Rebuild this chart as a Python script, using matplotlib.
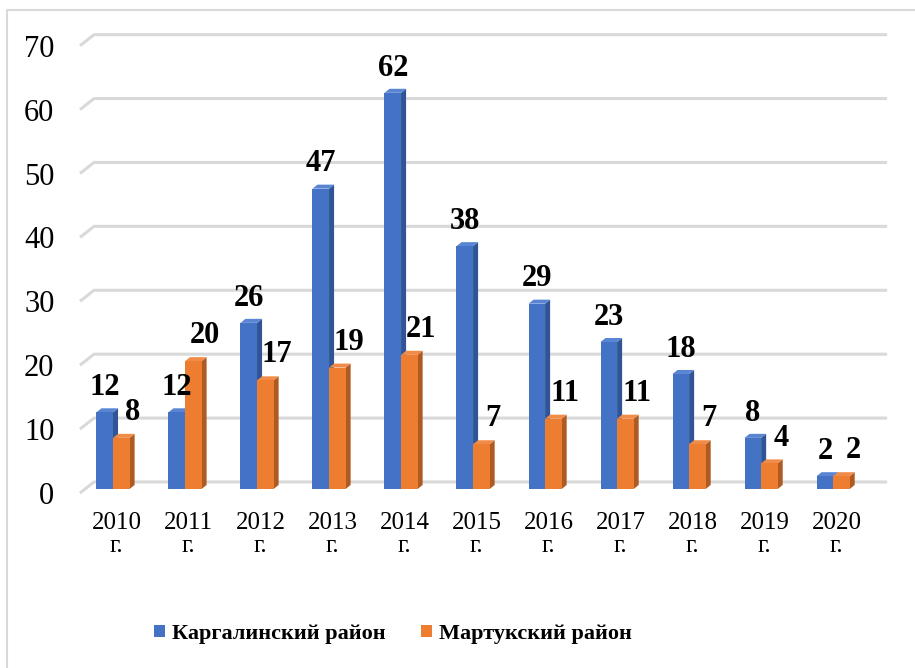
import matplotlib
matplotlib.use("Agg")
import matplotlib.pyplot as plt
from matplotlib.patches import Polygon, Patch
from matplotlib.lines import Line2D

plt.rcParams['font.family'] = 'Liberation Serif'

# data
years = ['2010', '2011', '2012', '2013', '2014', '2015', '2016', '2017', '2018', '2019', '2020']
kargala = [12, 12, 26, 47, 62, 38, 29, 23, 18, 8, 2]
martuk = [8, 20, 17, 19, 21, 7, 11, 11, 7, 4, 2]
series_names = ['Каргалинский район', 'Мартукский район']
yticks = [0, 10, 20, 30, 40, 50, 60, 70]

# colors: front, side, top
blue = ('#4472C4', '#2F5597', '#5A85D2')
orange = ('#ED7D31', '#AE5A21', '#F08C48')
grid_col = '#D9D9D9'
FONT = 'Liberation Serif'

fig = plt.figure(figsize=(9.15, 6.68), dpi=100)
ax = fig.add_axes([78 / 915, (668 - 495) / 668, 812 / 915, 465 / 668])
ax.set_xlim(-0.486, 10.79)
ax.set_ylim(-0.94, 71.83)
for s in ax.spines.values():
    s.set_visible(False)

# 3d look: bar depth and wall depth in data units
w = 0.23
bdx, bdy = 0.07, 0.63
gx_front, gx_back, gx_end = -0.458, -0.264, 10.75
gy_front, gy_back = -0.63, 1.1

for v in yticks:
    ax.plot([gx_front, gx_back, gx_end], [v + gy_front, v + gy_back, v + gy_back],
            color=grid_col, lw=2.2, solid_capstyle='butt', zorder=1)


def bar3d(x0, h, cols):
    x1 = x0 + w
    ax.add_patch(Polygon([(x1, 0), (x1, h), (x1 + bdx, h + bdy), (x1 + bdx, bdy)],
                         closed=True, fc=cols[1], ec='none', zorder=2))
    ax.add_patch(Polygon([(x0, h), (x1, h), (x1 + bdx, h + bdy), (x0 + bdx, h + bdy)],
                         closed=True, fc=cols[2], ec='none', zorder=2))
    ax.add_patch(Polygon([(x0, 0), (x1, 0), (x1, h), (x0, h)],
                         closed=True, fc=cols[0], ec='none', zorder=2))


for i in range(len(years)):
    bar3d(i - w, kargala[i], blue)
    bar3d(i, martuk[i], orange)
    ax.text(i - w / 2, kargala[i] + 2.7, str(kargala[i]), ha='center', va='baseline',
            fontsize=22, fontweight='bold', family=FONT, zorder=3)
    ax.text(i + w / 2 + 0.16, martuk[i] + 2.8, str(martuk[i]), ha='center', va='baseline',
            fontsize=22, fontweight='bold', family=FONT, zorder=3)

ax.set_yticks([v + gy_front for v in yticks])
ax.set_yticklabels([str(v) for v in yticks], fontsize=22, family=FONT)
ax.set_xticks([i + 0.05 for i in range(len(years))])
ax.set_xticklabels([y + '\nг.' for y in years], fontsize=18, linespacing=1.1, family=FONT)
ax.tick_params(axis='y', length=0, pad=17)
ax.tick_params(axis='x', length=0, pad=12)

# legend
handles = [Patch(fc=blue[0], ec='none'), Patch(fc=orange[0], ec='none')]
fig.legend(handles, series_names, loc='center left', bbox_to_anchor=(134 / 915, (668 - 634) / 668),
           ncol=2, frameon=False, prop={'family': FONT, 'size': 16, 'weight': 'bold'},
           handlelength=0.5, handleheight=0.5, handletextpad=0.3, columnspacing=1.6)

# outer border (top and left only visible)
fig.add_artist(Line2D([7 / 915, 7 / 915, 1], [0, 1 - 10 / 668, 1 - 10 / 668],
                      color=grid_col, lw=1.5, transform=fig.transFigure))

fig.savefig('out.png', dpi=100)
